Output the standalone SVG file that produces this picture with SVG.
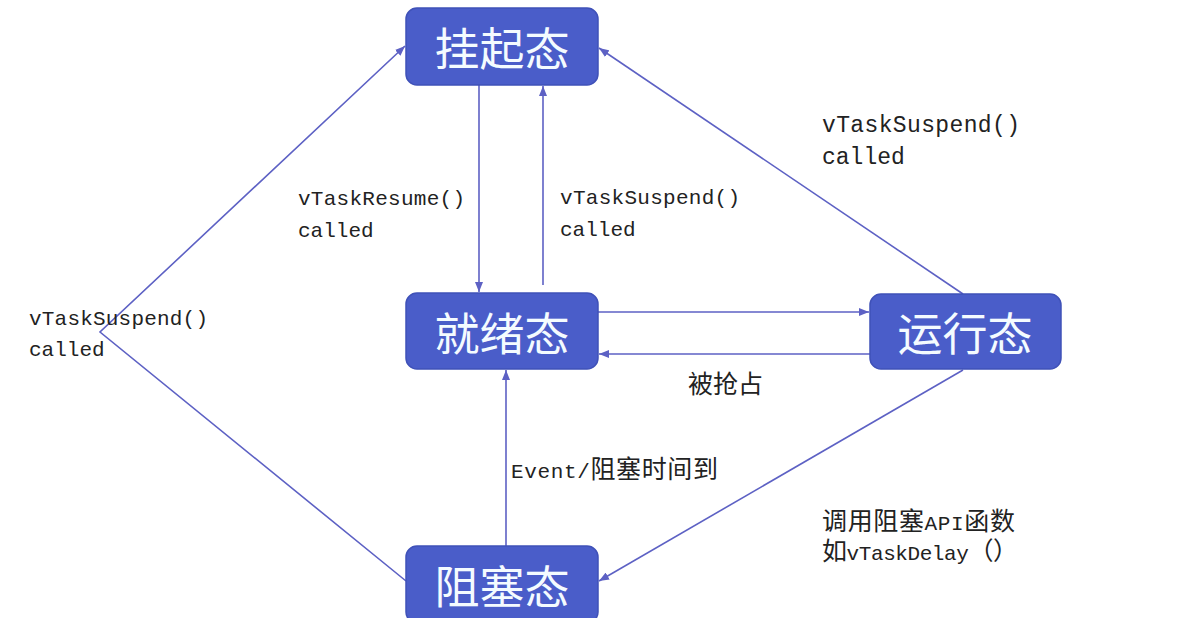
<svg xmlns="http://www.w3.org/2000/svg" width="1177" height="618" viewBox="0 0 1177 618">
<style>
.node rect{fill:#4a5dc9;stroke:#3f51b8;stroke-width:1.5}
.node text{fill:#f4fbff;font-family:"Noto Sans CJK SC",sans-serif;font-size:45px;text-anchor:middle;dominant-baseline:central}
.edge{fill:none;stroke:#5d61c4;stroke-width:1.6}
.lbl{fill:#222;font-family:"Liberation Mono","Noto Sans CJK SC",monospace;font-size:21px}
.cjk{font-size:25px}
</style>
<defs>
<marker id="arr" viewBox="0 0 10 8" refX="10" refY="4" markerWidth="10" markerHeight="8" markerUnits="userSpaceOnUse" orient="auto">
<path d="M0,0 L10,4 L0,8 z" fill="#5d61c4"/>
</marker>
</defs>
<rect width="1177" height="618" fill="#ffffff"/>
<g id="connectors">
<line class="edge" x1="479" y1="85" x2="479" y2="292" marker-end="url(#arr)"/>
<line class="edge" x1="543" y1="285" x2="543" y2="86" marker-end="url(#arr)"/>
<line class="edge" x1="598" y1="312" x2="869" y2="312" marker-end="url(#arr)"/>
<line class="edge" x1="870" y1="354" x2="599" y2="354" marker-end="url(#arr)"/>
<line class="edge" x1="963" y1="294" x2="599" y2="48" marker-end="url(#arr)"/>
<line class="edge" x1="963" y1="370" x2="599" y2="581" marker-end="url(#arr)"/>
<line class="edge" x1="506" y1="546" x2="506" y2="370" marker-end="url(#arr)"/>
<polyline class="edge" points="406,581 100,332 405,46" marker-end="url(#arr)"/>
</g>
<g id="node-suspended" class="node">
<rect x="406" y="8" width="192" height="77" rx="11"/>
<text x="502" y="46">挂起态</text>
</g>
<g id="node-ready" class="node">
<rect x="406" y="293" width="192" height="76" rx="11"/>
<text x="502" y="331">就绪态</text>
</g>
<g id="node-running" class="node">
<rect x="870" y="294" width="191" height="75" rx="11"/>
<text x="965" y="331">运行态</text>
</g>
<g id="node-blocked" class="node">
<rect x="406" y="546" width="192" height="77" rx="11"/>
<text x="502" y="584">阻塞态</text>
</g>
<g id="labels">
<text class="lbl" x="298" y="205" textLength="167">vTaskResume()</text>
<text class="lbl" x="298" y="237">called</text>
<text class="lbl" x="560" y="204" textLength="180">vTaskSuspend()</text>
<text class="lbl" x="560" y="236">called</text>
<text class="lbl" x="822" y="132" textLength="198" style="font-size:23px">vTaskSuspend()</text>
<text class="lbl" x="822" y="164" style="font-size:23px">called</text>
<text class="lbl" x="29" y="325" textLength="179">vTaskSuspend()</text>
<text class="lbl" x="29" y="356">called</text>
<text class="lbl cjk" x="688" y="393" textLength="75">被抢占</text>
<text class="lbl" x="511" y="478" textLength="207">Event/<tspan class="cjk">阻塞时间到</tspan></text>
<text class="lbl" x="822" y="530" textLength="193"><tspan class="cjk">调用阻塞</tspan>API<tspan class="cjk">函数</tspan></text>
<text class="lbl" x="822" y="560" textLength="196"><tspan class="cjk">如</tspan>vTaskDelay<tspan class="cjk">（）</tspan></text>
</g>
</svg>
